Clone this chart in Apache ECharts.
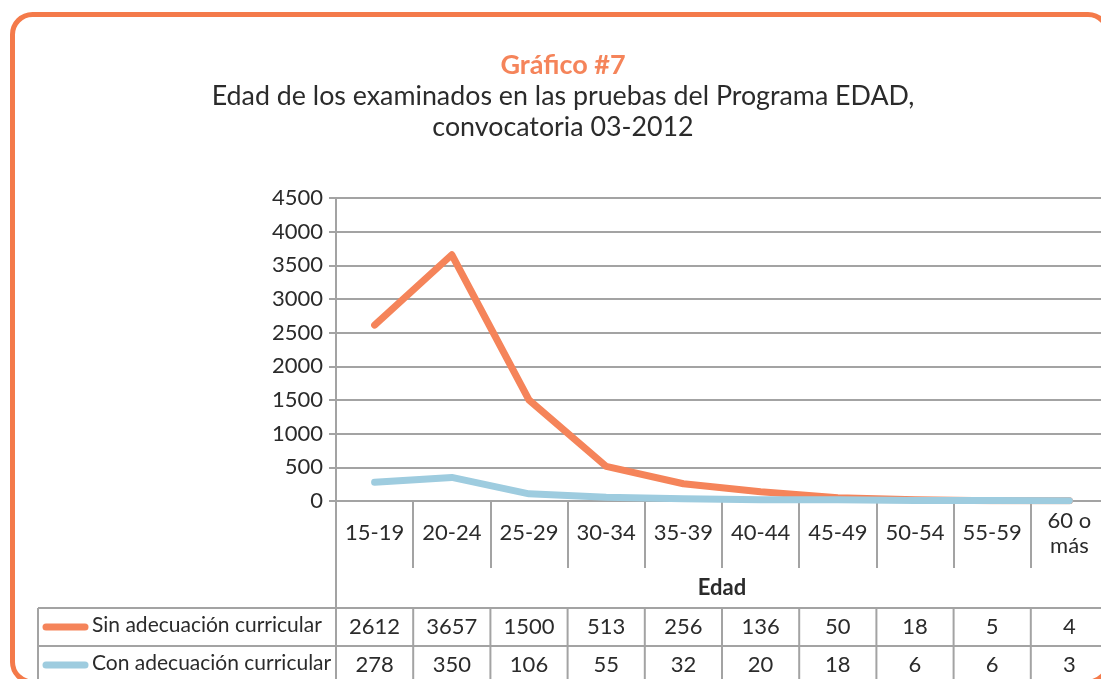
<!DOCTYPE html>
<html>
<head>
<meta charset="utf-8">
<script src="https://cdn.jsdelivr.net/npm/echarts@6/dist/echarts.min.js"></script>
<style>
  html, body { margin: 0; padding: 0; background: #ffffff; overflow: hidden; }
  /* the figure runs slightly past the right edge of the page */
  #chart { width: 1116px; height: 679px; }
</style>
</head>
<body>
<div id="chart"></div>
<script>
// Age groups of the examinees
const categories = ['15-19', '20-24', '25-29', '30-34', '35-39', '40-44', '45-49', '50-54', '55-59', '60 o\nmás'];
const sinAdecuacion = [2612, 3657, 1500, 513, 256, 136, 50, 18, 5, 4];
const conAdecuacion = [278, 350, 106, 55, 32, 20, 18, 6, 6, 3];
const seriesNames = ['Sin adecuación curricular', 'Con adecuación curricular'];
const yTicks = [0, 500, 1000, 1500, 2000, 2500, 3000, 3500, 4000, 4500];

const FONT = 'Lato, "Open Sans", sans-serif';
const TEXT = '#2b2b2b';
const GRIDC = '#a3a3a3';
const ORANGE = '#F5845A';
const BLUE = '#9ECCDF';
const FRAME = '#F47A4A';

const chart = echarts.init(document.getElementById('chart'), null, { renderer: 'canvas' });

chart.setOption({
  backgroundColor: '#ffffff',
  animation: false,
  textStyle: { fontFamily: FONT },
  title: {
    text: 'Gráfico #7',
    subtext: 'Edad de los examinados en las pruebas del Programa EDAD,\nconvocatoria 03-2012',
    left: 558,
    textAlign: 'center',
    top: 47,
    itemGap: 2,
    textStyle: { fontFamily: FONT, fontSize: 27, fontWeight: 'bold', color: ORANGE },
    subtextStyle: { fontFamily: FONT, fontSize: 26.8, lineHeight: 31, color: TEXT }
  },
  grid: { left: 336, top: 198, width: 772, height: 303, containLabel: false },
  xAxis: {
    type: 'category',
    data: categories,
    boundaryGap: true,
    name: 'Edad',
    nameLocation: 'middle',
    nameGap: 76,
    nameTextStyle: { fontFamily: FONT, fontSize: 22, fontWeight: 'bold', color: TEXT },
    axisLine: { show: true, lineStyle: { color: GRIDC, width: 2 } },
    axisTick: { show: true, interval: 0, alignWithLabel: false, length: 67, lineStyle: { color: GRIDC, width: 2 } },
    axisLabel: {
      interval: 0, margin: 32, verticalAlign: 'middle', lineHeight: 25,
      fontFamily: FONT, fontSize: 22, color: TEXT
    },
    splitLine: { show: false }
  },
  yAxis: {
    type: 'value',
    min: yTicks[0],
    max: yTicks[yTicks.length - 1],
    interval: yTicks[1] - yTicks[0],
    axisLine: { show: true, lineStyle: { color: GRIDC, width: 2 } },
    axisTick: { show: true, length: 7, lineStyle: { color: GRIDC, width: 2 } },
    axisLabel: {
      margin: 13, fontFamily: FONT, fontSize: 22, color: TEXT,
      formatter: (v) => String(v)
    },
    splitLine: { show: true, lineStyle: { color: GRIDC, width: 2 } }
  },
  series: [
    {
      name: seriesNames[0], type: 'line', data: sinAdecuacion,
      showSymbol: false, symbol: 'none',
      lineStyle: { color: ORANGE, width: 7, cap: 'round', join: 'round' },
      itemStyle: { color: ORANGE }
    },
    {
      name: seriesNames[1], type: 'line', data: conAdecuacion,
      showSymbol: false, symbol: 'none',
      lineStyle: { color: BLUE, width: 7, cap: 'round', join: 'round' },
      itemStyle: { color: BLUE }
    }
  ]
});

// Data table under the axis, laid out from the chart's own scales
function buildTable() {
  const centers = categories.map((c, i) => chart.convertToPixel({ xAxisIndex: 0 }, i));
  const band = centers.length > 1 ? centers[1] - centers[0] : 77;
  const plotLeft = centers[0] - band / 2;
  const plotRight = centers[centers.length - 1] + band / 2;
  const zeroY = chart.convertToPixel({ yAxisIndex: 0 }, 0);

  const tableTop = zeroY + 107;
  const rowH = 38;
  const tableLeft = 38;
  const rows = [sinAdecuacion, conAdecuacion];
  const colors = [ORANGE, BLUE];
  const tableBottom = tableTop + rowH * rows.length;

  const els = [];
  const line = (x1, y1, x2, y2) => els.push({
    type: 'line', silent: true,
    shape: { x1, y1, x2, y2 },
    style: { stroke: GRIDC, lineWidth: 2 }
  });

  // horizontal rules
  for (let r = 0; r <= rows.length; r++) {
    line(tableLeft, tableTop + r * rowH, plotRight, tableTop + r * rowH);
  }
  // left border and the axis continuing down through the table
  line(tableLeft, tableTop, tableLeft, tableBottom);
  line(plotLeft, zeroY, plotLeft, tableBottom);
  // column separators
  for (let i = 1; i <= centers.length; i++) {
    const x = plotLeft + i * band;
    line(x, tableTop, x, tableBottom);
  }

  rows.forEach((vals, r) => {
    const cy = tableTop + r * rowH + rowH / 2;
    // legend key
    els.push({
      type: 'line', silent: true,
      shape: { x1: 46, y1: cy, x2: 85, y2: cy },
      style: { stroke: colors[r], lineWidth: 7, lineCap: 'round' }
    });
    els.push({
      type: 'text', silent: true,
      x: 92, y: cy - 2,
      style: { text: seriesNames[r], fontFamily: FONT, fontSize: 21, fill: TEXT, align: 'left', verticalAlign: 'middle' }
    });
    vals.forEach((v, i) => {
      els.push({
        type: 'text', silent: true,
        x: centers[i], y: cy,
        style: { text: String(v), fontFamily: FONT, fontSize: 22, fill: TEXT, align: 'center', verticalAlign: 'middle' }
      });
    });
  });

  // rounded frame around the figure
  els.push({
    type: 'rect', silent: true, z: 100,
    shape: { x: 12.5, y: 14.5, width: 1095.5, height: 667.5, r: 20 },
    style: { fill: 'none', stroke: FRAME, lineWidth: 5 }
  });

  chart.setOption({ graphic: { elements: els } });
}

buildTable();
</script>
</body>
</html>
